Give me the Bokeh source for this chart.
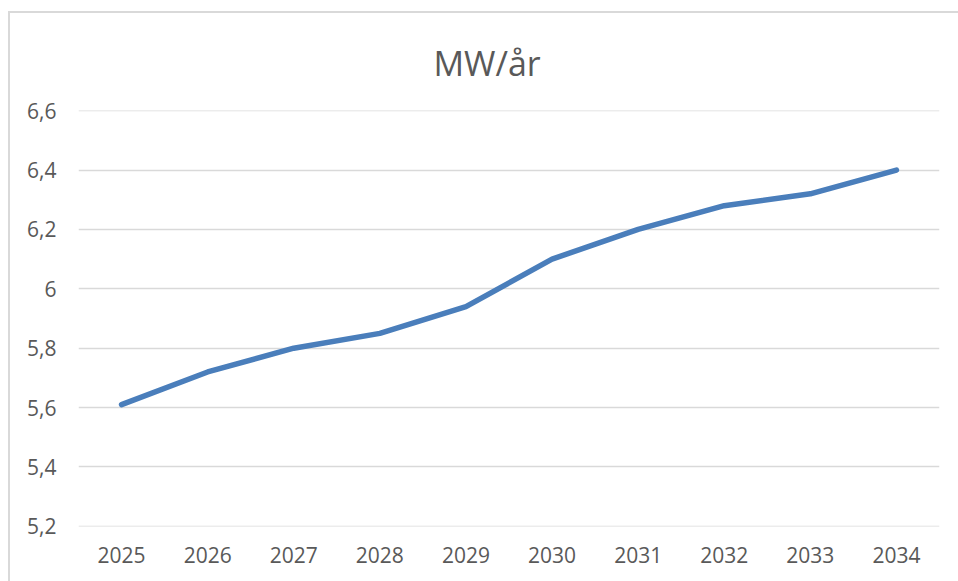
from bokeh.plotting import figure
from bokeh.layouts import column, row
from bokeh.models import Spacer, FixedTicker, ColumnDataSource, Range1d
from bokeh.embed import file_html
from bokeh.resources import INLINE

years = ["2025", "2026", "2027", "2028", "2029", "2030", "2031", "2032", "2033", "2034"]
mw_per_year = [5.61, 5.72, 5.80, 5.85, 5.94, 6.10, 6.20, 6.28, 6.32, 6.40]
y_ticks = [5.2, 5.4, 5.6, 5.8, 6.0, 6.2, 6.4, 6.6]
y_tick_labels = ["5,2", "5,4", "5,6", "5,8", "6", "6,2", "6,4", "6,6"]
title_text = "MW/år"

FONT = "Open Sans"
TEXT_COLOR = "#595959"
BORDER = {"background-color": "#d9d9d9"}

src = ColumnDataSource(dict(x=years, y=mw_per_year))

p = figure(x_range=years, y_range=Range1d(5.1995, 6.6005), width=948, height=568,
           output_backend="svg", toolbar_location=None,
           min_border_left=68, min_border_right=19, min_border_top=97, min_border_bottom=55)

p.line("x", "y", source=src, line_color="#4a7ebb", line_width=5.5, line_cap="round", line_join="round")

p.title.text = title_text
p.title.align = "left"
p.title.offset = 355
p.title.text_font = FONT
p.title.text_font_size = "34px"
p.title.text_font_style = "normal"
p.title.text_color = TEXT_COLOR
p.title.standoff = 49

p.outline_line_color = None
p.xgrid.grid_line_color = None
p.ygrid.grid_line_color = "#d9d9d9"
p.ygrid.grid_line_width = 1.5

p.yaxis.ticker = FixedTicker(ticks=y_ticks)
p.yaxis.major_label_overrides = {t: l for t, l in zip(y_ticks, y_tick_labels)}

for ax in (p.xaxis[0], p.yaxis[0]):
    ax.axis_line_color = None
    ax.major_tick_line_color = None
    ax.minor_tick_line_color = None
    ax.major_tick_out = 0
    ax.major_tick_in = 0
    ax.major_label_text_font = FONT
    ax.major_label_text_font_size = "21px"
    ax.major_label_text_color = TEXT_COLOR

p.xaxis.major_label_standoff = 20
p.yaxis.major_label_standoff = 22

layout = column(
    Spacer(height=11, width=958),
    row(
        Spacer(width=8, height=570),
        Spacer(width=2, height=570, styles=BORDER),
        column(Spacer(height=2, width=948, styles=BORDER), p),
    ),
)

with open("out.html", "w") as f:
    f.write(file_html(layout, INLINE))
